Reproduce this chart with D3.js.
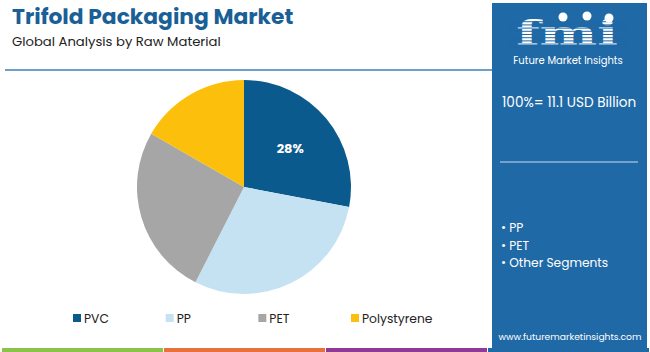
<!DOCTYPE html>
<html lang="en">
<head>
<meta charset="UTF-8">
<title>Trifold Packaging Market</title>
<script src="https://d3js.org/d3.v7.min.js"></script>
<style>
    body {margin: 0; background: #fff;}
    svg {display: block;}
</style>
</head>
<body>
<svg id="chart" width="650" height="352"></svg>
<script>
// data
let categories = ["PVC", "PP", "PET", "Polystyrene"];
let shares = [28, 29.5, 25.8, 16.7];
let colors = ["#0b5a8e", "#c5e2f3", "#a6a6a6", "#fcbf0b"];
let shownLabels = ["28%", "", "", ""];
let panelBullets = ["PP", "PET", "Other Segments"];
let footerColors = ["#8bc34a", "#e8703a", "#8e3a96", "#1f69a6"];

let svg = d3.select("#chart");
const font = "Poppins, 'Open Sans', sans-serif";

// title
svg.append("text").attr("x", 12).attr("y", 24)
    .attr("font-family", font).attr("font-weight", 700).attr("font-size", 21.8)
    .attr("fill", "#1a5f96").text("Trifold Packaging Market");
svg.append("text").attr("x", 12).attr("y", 46)
    .attr("font-family", font).attr("font-size", 13.2)
    .attr("fill", "#222").text("Global Analysis by Raw Material");
svg.append("line").attr("x1", 5).attr("x2", 493).attr("y1", 70).attr("y2", 70)
    .attr("stroke", "#3d80b6").attr("stroke-width", 1.5);

// pie
let pie = d3.pie().sort(null).value(d => d)(shares);
let arc = d3.arc().innerRadius(0).outerRadius(107);
let labelArc = d3.arc().innerRadius(60).outerRadius(60);
let g = svg.append("g").attr("transform", "translate(244,187)");
g.selectAll("path").data(pie).join("path")
    .attr("d", arc)
    .attr("fill", (d, i) => colors[i]);
g.selectAll("text").data(pie).join("text")
    .attr("transform", d => `translate(${labelArc.centroid(d)})`)
    .attr("dy", "0.35em").attr("text-anchor", "middle")
    .attr("font-family", font).attr("font-weight", 700).attr("font-size", 13)
    .attr("fill", "#fff")
    .text((d, i) => shownLabels[i]);

// legend
let legendX = d3.scalePoint().domain(categories).range([73, 351]);
let leg = svg.append("g").selectAll("g").data(categories).join("g")
    .attr("transform", d => `translate(${legendX(d)},312)`);
leg.append("rect").attr("width", 8).attr("height", 8).attr("y", 2)
    .attr("fill", (d, i) => colors[i]);
leg.append("text").attr("x", 11).attr("y", 10.5)
    .attr("font-family", font).attr("font-size", 12.3).attr("fill", "#222")
    .text(d => d);

// footer strip
let stripX = d3.scaleLinear().domain([0, footerColors.length]).range([2, 650]);
svg.append("g").selectAll("rect").data(footerColors).join("rect")
    .attr("x", (d, i) => stripX(i)).attr("width", (d, i) => stripX(i + 1) - stripX(i) - 1)
    .attr("y", 348).attr("height", 4).attr("fill", d => d);

// right panel
let panel = svg.append("g");
panel.append("rect").attr("x", 492).attr("y", 3).attr("width", 155).attr("height", 349)
    .attr("fill", "#1f69a6");

// logo
panel.append("text").attr("transform", "translate(567,45) scale(1.6,1)")
    .attr("text-anchor", "middle")
    .attr("font-family", "'DejaVu Serif', serif").attr("font-weight", 700)
    .attr("font-size", 34).attr("fill", "#fff").text("fmi");
for (let y = 18; y < 50; y += 3.2) {
    panel.append("rect").attr("x", 508).attr("y", y).attr("width", 120).attr("height", 1)
        .attr("fill", "#1f69a6");
}
[[563, 17], [587, 16], [609, 18]].forEach(p => {
    panel.append("circle").attr("cx", p[0]).attr("cy", p[1]).attr("r", 4.5).attr("fill", "#fff");
});
panel.append("text").attr("x", 568).attr("y", 64).attr("text-anchor", "middle")
    .attr("font-family", font).attr("font-size", 10).attr("fill", "#fff")
    .text("Future Market Insights");

panel.append("text").attr("x", 502).attr("y", 107)
    .attr("font-family", font).attr("font-size", 13.6).attr("fill", "#fff")
    .text("100%= 11.1 USD Billion");
panel.append("line").attr("x1", 500).attr("x2", 638).attr("y1", 162).attr("y2", 162)
    .attr("stroke", "#c9dcef").attr("stroke-width", 1.2);

panel.selectAll(".bul").data(panelBullets).join("text")
    .attr("x", 501).attr("y", (d, i) => 232 + i * 17.5)
    .attr("font-family", font).attr("font-size", 12.2).attr("fill", "#fff")
    .text(d => "\u2022 " + d);

panel.append("text").attr("x", 570).attr("y", 340).attr("text-anchor", "middle")
    .attr("font-family", font).attr("font-size", 9.2).attr("fill", "#fff")
    .text("www.futuremarketinsights.com");
</script>
</body>
</html>
